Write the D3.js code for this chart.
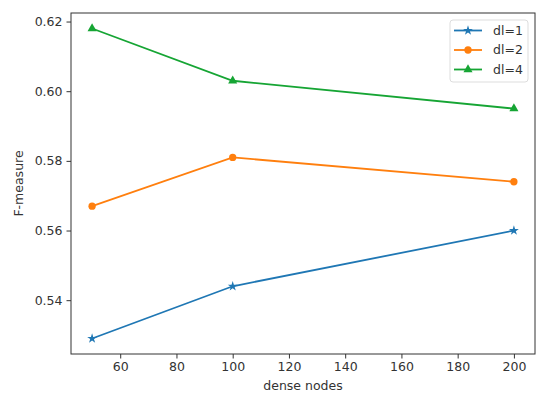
<!DOCTYPE html>
<html>
<head>
<meta charset="utf-8">
<script src="https://cdn.jsdelivr.net/npm/d3@7"></script>
<style>
  html, body { margin: 0; padding: 0; background: #fff; }
  svg text { font-family: "DejaVu Sans", sans-serif; fill: #333; }
</style>
</head>
<body>
<svg id="chart" width="550" height="398"></svg>
<script>
// data
const denseNodes = [50, 100, 200];
const dl1 = [0.529, 0.544, 0.560];
const dl2 = [0.567, 0.581, 0.574];
const dl4 = [0.618, 0.603, 0.595];
const seriesNames = ['dl=1', 'dl=2', 'dl=4'];
const xTicks = [60, 80, 100, 120, 140, 160, 180, 200];
const yTicks = [0.54, 0.56, 0.58, 0.60, 0.62];

const svg = d3.select('#chart');
const plotLeft = 71, plotRight = 535, plotTop = 13, plotBottom = 354;

const x = d3.scaleLinear().domain([42.5, 207.5]).range([plotLeft, plotRight]);
const y = d3.scaleLinear().domain([0.52455, 0.62245]).range([plotBottom, plotTop]);

const colors = ['#1f77b4', '#ff7f0e', '#16a534'];
const shapes = [d3.symbolStar, d3.symbolCircle, d3.symbolTriangle];
const sizes = [30, 42, 36];
const series = [dl1, dl2, dl4].map((vals, i) => ({
  name: seriesNames[i], color: colors[i], shape: shapes[i], size: sizes[i],
  points: vals.map((v, j) => [denseNodes[j], v])
}));

// axes
const xAxis = svg.append('g').attr('transform', `translate(0,${plotBottom})`)
  .call(d3.axisBottom(x).tickValues(xTicks).tickSize(4.5).tickPadding(4).tickFormat(d3.format('d')));
const yAxis = svg.append('g').attr('transform', `translate(${plotLeft},0)`)
  .call(d3.axisLeft(y).tickValues(yTicks).tickSize(4.5).tickPadding(4).tickFormat(d3.format('.2f')));
[xAxis, yAxis].forEach(a => {
  a.select('.domain').remove();
  a.selectAll('line').attr('stroke', '#333').attr('stroke-width', 1);
  a.selectAll('text').style('font-size', '12.5px').style('font-family', '"DejaVu Sans", sans-serif').attr('fill', '#333');
});

// frame
svg.append('rect').attr('x', plotLeft).attr('y', plotTop)
  .attr('width', plotRight - plotLeft).attr('height', plotBottom - plotTop)
  .attr('fill', 'none').attr('stroke', '#333').attr('stroke-width', 1);

// labels
svg.append('text').attr('x', (plotLeft + plotRight) / 2).attr('y', 390)
  .attr('text-anchor', 'middle').style('font-size', '12.5px').text('dense nodes');
svg.append('text').attr('transform', `translate(23,${(plotTop + plotBottom) / 2}) rotate(-90)`)
  .attr('text-anchor', 'middle').style('font-size', '12.5px').text('F-measure');

// lines and markers
const line = d3.line().x(d => x(d[0])).y(d => y(d[1]));
series.forEach(s => {
  svg.append('path').datum(s.points).attr('d', line)
    .attr('fill', 'none').attr('stroke', s.color).attr('stroke-width', 1.8);
  svg.selectAll(null).data(s.points).enter().append('path')
    .attr('transform', d => `translate(${x(d[0])},${y(d[1])})`)
    .attr('d', d3.symbol().type(s.shape).size(s.size))
    .attr('fill', s.color);
});

// legend
const lg = svg.append('g').attr('transform', 'translate(450,20)');
lg.append('rect').attr('width', 78).attr('height', 62).attr('rx', 3)
  .attr('fill', '#fff').attr('stroke', '#ddd').attr('stroke-width', 1);
series.forEach((s, i) => {
  const cy = 10.5 + i * 19.5;
  lg.append('line').attr('x1', 4).attr('x2', 32).attr('y1', cy).attr('y2', cy)
    .attr('stroke', s.color).attr('stroke-width', 1.8);
  lg.append('path').attr('transform', `translate(18,${cy})`)
    .attr('d', d3.symbol().type(s.shape).size(s.size)).attr('fill', s.color);
  lg.append('text').attr('x', 43).attr('y', cy + 4.4).style('font-size', '12.5px').text(s.name);
});
</script>
</body>
</html>
